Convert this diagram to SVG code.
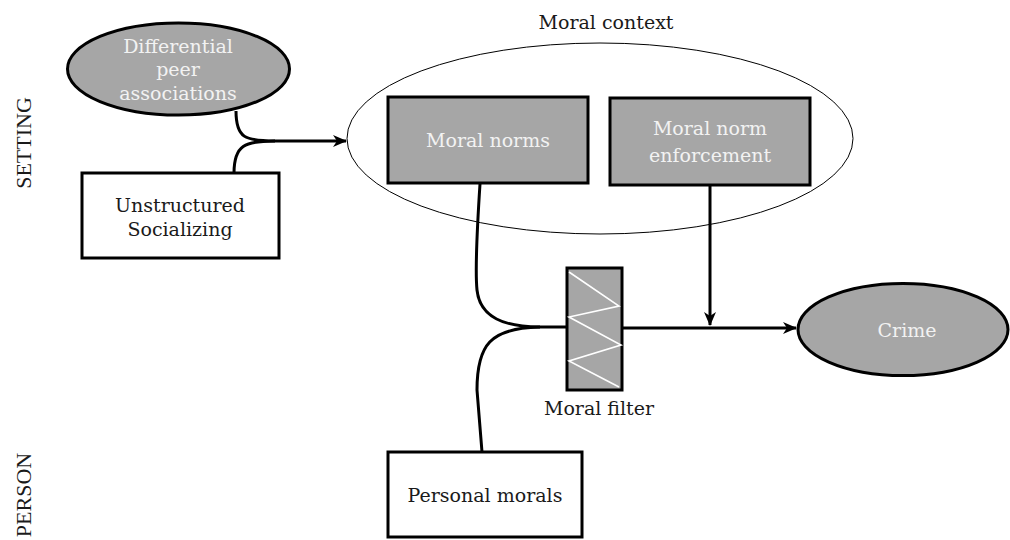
<svg xmlns="http://www.w3.org/2000/svg" width="1010" height="540" viewBox="0 0 1010 540">
<defs>
<marker id="arr" viewBox="0 0 14 12" refX="13" refY="6" markerWidth="14" markerHeight="12" markerUnits="userSpaceOnUse" orient="auto">
<path d="M0,0 L14,6 L0,12 L4,6 z" fill="#000"/>
</marker>
<style>
.t{font-family:"DejaVu Serif","Liberation Serif",serif;font-size:19px;text-anchor:middle;fill:#1a1a1a}
.w{fill:#f2f2f2}
.side{font-family:"Liberation Serif",serif;font-size:22px;text-anchor:middle;fill:#1a1a1a}
.gray{fill:#a6a6a6;stroke:#000;stroke-width:3}
.white{fill:#fff;stroke:#000;stroke-width:3}
.c{fill:none;stroke:#000;stroke-width:3}
</style>
</defs>
<rect width="1010" height="540" fill="#fff"/>
<text class="side" transform="translate(31,143) rotate(-90)">SETTING</text>
<text class="side" transform="translate(31,495) rotate(-90)">PERSON</text>
<g id="context">
<ellipse cx="600" cy="138.5" rx="253" ry="95.5" fill="none" stroke="#000" stroke-width="1"/>
<text class="t" x="606" y="29">Moral context</text>
</g>
<g id="connectors">
<path class="c" d="M236,111 C236,138 245,141 275,141 L346,141" marker-end="url(#arr)"/>
<path class="c" d="M234,173 C234,145 245,141 275,141"/>
<path class="c" d="M480,184 C477,230 475,270 477,290 C480,318 505,327 540,327 L567,327"/>
<path class="c" d="M482,452 L477,390 C477,345 490,328 540,327"/>
<path class="c" d="M622,328 L796,328" marker-end="url(#arr)"/>
<path class="c" d="M710,185 L710,325" marker-end="url(#arr)"/>
</g>
<g id="peers">
<ellipse class="gray" cx="178.5" cy="69" rx="111" ry="46"/>
<text class="t w" x="178" y="53">Differential</text>
<text class="t w" x="178" y="76">peer</text>
<text class="t w" x="178" y="100">associations</text>
</g>
<g id="unstructured">
<rect class="white" x="82" y="173" width="197" height="85"/>
<text class="t" x="180" y="212">Unstructured</text>
<text class="t" x="180" y="236">Socializing</text>
</g>
<g id="norms">
<rect class="gray" x="388" y="97" width="200" height="86"/>
<text class="t w" x="488" y="147">Moral norms</text>
</g>
<g id="enforcement">
<rect class="gray" x="610" y="98" width="200" height="87"/>
<text class="t w" x="710" y="135">Moral norm</text>
<text class="t w" x="710" y="162">enforcement</text>
</g>
<g id="filter">
<rect class="gray" x="567" y="268" width="55" height="122"/>
<polyline points="569,272 619,306 569,317 621,345 569,361 619,387" fill="none" stroke="#fff" stroke-width="1.6"/>
<text class="t" x="599" y="415">Moral filter</text>
</g>
<g id="crime">
<ellipse class="gray" cx="903" cy="329.5" rx="105" ry="46"/>
<text class="t w" x="907" y="337">Crime</text>
</g>
<g id="personal">
<rect class="white" x="388" y="452" width="194" height="85"/>
<text class="t" x="485" y="502">Personal morals</text>
</g>
</svg>
